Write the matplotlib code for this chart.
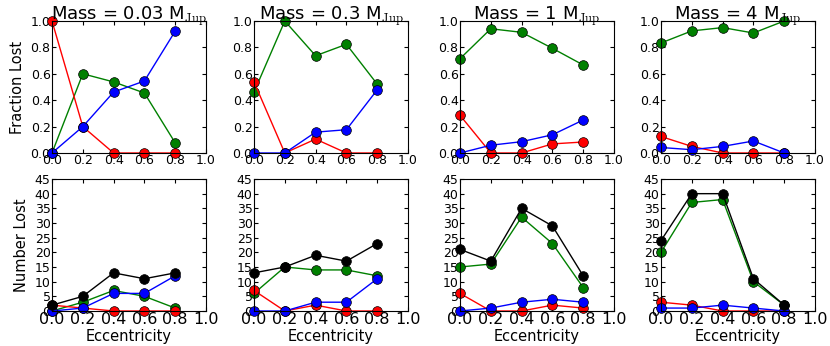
import numpy as np
import matplotlib
matplotlib.use('Agg')
import matplotlib.pyplot as plt

plt.rcParams['mathtext.fontset'] = 'cm'
plt.rcParams['xtick.direction'] = 'in'
plt.rcParams['ytick.direction'] = 'in'

ecc = [0.0, 0.2, 0.4, 0.6, 0.8]
masses = ['0.03', '0.3', '1', '4']

# number of planets lost per channel, one list per mass
total = [[2, 5, 13, 11, 13], [13, 15, 19, 17, 23], [21, 17, 35, 29, 12], [24, 40, 40, 11, 2]]
green = [[0, 3, 7, 5, 1], [6, 15, 14, 14, 12], [15, 16, 32, 23, 8], [20, 37, 38, 10, 2]]
red = [[2, 1, 0, 0, 0], [7, 0, 2, 0, 0], [6, 0, 0, 2, 1], [3, 2, 0, 0, 0]]
blue = [[0, 1, 6, 6, 12], [0, 0, 3, 3, 11], [0, 1, 3, 4, 3], [1, 1, 2, 1, 0]]

lefts = [52, 254, 460, 661]
W, H = 830.0, 346.0

fig = plt.figure(figsize=(8.3, 3.46), dpi=100)

mk = dict(marker='o', ms=7, mec='k', mew=0.5, lw=1)

for k in range(4):
    tot = np.array(total[k], dtype=float)
    g = np.array(green[k], dtype=float)
    r = np.array(red[k], dtype=float)
    b = np.array(blue[k], dtype=float)

    # fraction lost
    ax = fig.add_axes([lefts[k] / W, 1 - 153 / H, 154 / W, 132 / H])
    ax.plot(ecc, g / tot, color=(0, 0.5, 0), clip_on=False, **mk)
    ax.plot(ecc, r / tot, color='r', clip_on=False, **mk)
    ax.plot(ecc, b / tot, color='b', clip_on=False, **mk)
    ax.set_xlim(0, 1)
    ax.set_ylim(0, 1)
    ax.set_xticks(np.arange(0, 1.01, 0.2))
    ax.set_yticks(np.arange(0, 1.01, 0.2))
    ax.tick_params(labelsize=9, top=True, right=True, length=3, pad=1)
    ax.set_title('Mass = %s M$_{\\rm Jup}$' % masses[k], fontsize=13, pad=1)
    if k == 0:
        ax.set_ylabel('Fraction Lost', fontsize=10.5)

    # number lost
    ax = fig.add_axes([lefts[k] / W, 1 - 311 / H, 154 / W, 132 / H])
    ax.plot(ecc, g, color=(0, 0.5, 0), clip_on=False, **mk)
    ax.plot(ecc, r, color='r', clip_on=False, **mk)
    ax.plot(ecc, b, color='b', clip_on=False, **mk)
    ax.plot(ecc, tot, color='k', clip_on=False, **mk)
    ax.set_xlim(0, 1)
    ax.set_ylim(0, 45)
    ax.set_xticks(np.arange(0, 1.01, 0.2))
    ax.set_yticks(np.arange(0, 46, 5))
    ax.tick_params(axis='y', labelsize=9, pad=1)
    ax.tick_params(axis='x', labelsize=11.5, pad=1)
    ax.tick_params(top=True, right=True, length=3)
    ax.set_xlabel('Eccentricity', fontsize=10.5, labelpad=1)
    if k == 0:
        ax.set_ylabel('Number Lost', fontsize=10.5)

plt.savefig('out.png', dpi=100)
